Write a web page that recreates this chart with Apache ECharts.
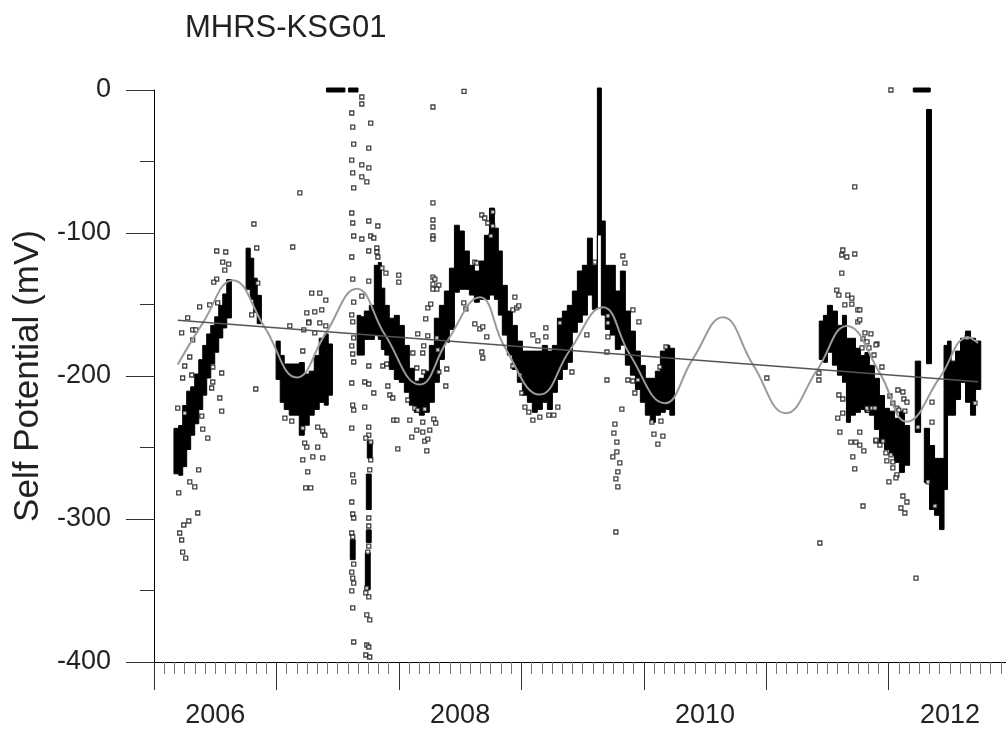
<!DOCTYPE html>
<html>
<head>
<meta charset="utf-8">
<script src="https://cdn.jsdelivr.net/npm/echarts@6/dist/echarts.min.js"></script>
<style>
html,body{margin:0;padding:0;background:#fff;}
#chart{width:1006px;height:733px;}
</style>
</head>
<body>
<div id="chart"></div>
<script>
// ---------- DATA (time in decimal years, Self Potential in mV) ----------
var chartTitle = 'MHRS-KSG01';
var yAxisTitle = 'Self Potential (mV)';
var yearLabels = [2006, 2008, 2010, 2012];

// dense measurement bands: [time, upper value, lower value]
var band2006 = [
  [2006.185,-238,-267],[2006.218,-236,-268],[2006.251,-222,-262],[2006.283,-212,-250],
  [2006.316,-209,-240],[2006.349,-200,-232],[2006.382,-190,-222],[2006.414,-180,-212],
  [2006.447,-172,-200],[2006.480,-166,-190],[2006.512,-160,-182],[2006.545,-152,-172],
  [2006.578,-144,-165],[2006.610,-134,-158],
  [2006.774,-112,-138],[2006.798,-119,-145],[2006.831,-133,-154],[2006.855,-145,-162]
];
var band2007 = [
  [2007.019,-177,-201],[2007.043,-187,-217],[2007.084,-193,-222],[2007.125,-193,-226],
  [2007.166,-193,-226],[2007.207,-192,-240],[2007.248,-200,-233],[2007.288,-198,-226],
  [2007.329,-187,-222],[2007.370,-175,-217],[2007.411,-172,-219],[2007.435,-179,-212]
];
var band2008to2010 = [
  [2007.681,-159,-184],[2007.697,-160,-184],[2007.738,-156,-173],[2007.779,-152,-173],
  [2007.820,-124,-170],[2007.844,-122,-173],[2007.869,-140,-180],[2007.901,-152,-184],
  [2007.942,-161,-194],[2007.983,-159,-201],[2008.024,-166,-203],[2008.065,-180,-210],
  [2008.106,-196,-219],[2008.146,-205,-224],[2008.187,-203,-226],[2008.228,-198,-224],
  [2008.269,-180,-217],[2008.310,-161,-203],[2008.351,-152,-187],[2008.392,-142,-175],
  [2008.433,-126,-166],[2008.474,-96,-140],[2008.514,-100,-138],[2008.555,-114,-138],
  [2008.596,-124,-142],[2008.637,-128,-147],[2008.678,-121,-145],[2008.719,-103,-145],
  [2008.760,-84,-142],[2008.800,-98,-145],[2008.824,-114,-156],[2008.865,-138,-170],
  [2008.906,-156,-184],[2008.947,-166,-194],[2008.988,-177,-203],[2009.029,-184,-212],
  [2009.069,-184,-217],[2009.110,-184,-224],[2009.151,-184,-222],[2009.192,-180,-217],
  [2009.233,-184,-222],[2009.274,-180,-210],[2009.315,-161,-201],[2009.355,-156,-194],
  [2009.396,-152,-189],[2009.437,-142,-168],[2009.478,-128,-161],[2009.519,-124,-156],
  [2009.560,-105,-142],[2009.600,-124,-152],[2009.642,0,-100],[2009.665,-93,-156],
  [2009.706,-124,-166],[2009.747,-124,-170],[2009.788,-142,-180],[2009.829,-128,-177],
  [2009.870,-156,-191],[2009.911,-170,-198],[2009.952,-184,-208],[2009.992,-194,-217],
  [2010.033,-203,-226],[2010.074,-203,-231],[2010.115,-198,-226],[2010.156,-184,-224],
  [2010.196,-180,-222],[2010.229,-182,-226]
];
var band2011to2012 = [
  [2011.455,-163,-187],[2011.479,-159,-189],[2011.520,-152,-182],[2011.561,-156,-191],
  [2011.602,-166,-198],[2011.643,-159,-203],[2011.667,-175,-231],[2011.708,-175,-226],
  [2011.749,-182,-224],[2011.790,-187,-222],[2011.822,-185,-224],[2011.863,-194,-226],
  [2011.904,-203,-236],[2011.945,-215,-245],[2011.986,-224,-250],[2012.027,-226,-254],
  [2012.067,-231,-259],[2012.108,-226,-266],[2012.149,-236,-261],
  [2012.239,-191,-238],
  [2012.313,-238,-273],[2012.354,-250,-292],[2012.395,-259,-296],
  [2012.436,-259,-306],[2012.468,-180,-278],[2012.493,-177,-226],[2012.526,-191,-226],
  [2012.566,-184,-215],[2012.607,-175,-203],[2012.648,-170,-217],[2012.689,-175,-226],
  [2012.730,-177,-208]
];
// narrow dense columns: [time, upper value, lower value]
var columnBands = [
  [2007.623,-316,-327],[2007.762,-247,-256],[2007.754,-270,-292],[2007.754,-309,-315],
  [2007.746,-325,-348],[2012.329,-15,-190]
];
// readings saturated at 0 mV
var zeroBars = [
  [2007.431,0,0],[2007.468,0,0],[2007.505,0,0],[2007.537,0,0],[2007.611,0,0],[2007.644,0,0],
  [2012.223,0,0],[2012.256,0,0],[2012.288,0,0],[2012.317,0,0]
];

// scattered individual readings: [time, value]
var outliers2006 = [
  [2006.816,-93.7],[2007.133,-109.8],[2006.839,-110.5],[2006.512,-112.6],[2006.586,-113.3],
  [2006.561,-120.3],[2006.610,-121.7],[2006.578,-125.9],[2006.512,-132.2],[2006.488,-134.3],
  [2006.847,-135.0],[2007.288,-142.0],[2007.354,-142.0],[2007.403,-146.9],[2006.373,-151.7],
  [2006.455,-150.3],[2006.520,-148.9],[2006.275,-159.4],[2007.370,-153.8],[2007.313,-155.2],
  [2007.248,-155.9],[2006.798,-157.3],[2006.316,-167.8],[2006.341,-167.8],[2006.226,-169.9],
  [2007.109,-165.0],[2007.264,-162.2],[2007.313,-169.9],[2007.223,-167.8],[2006.316,-174.8],
  [2006.292,-186.7],[2006.251,-193.0],[2006.234,-201.4],[2006.308,-199.3],[2006.480,-193.7],
  [2006.553,-197.9],[2006.480,-204.2],[2006.471,-208.4],[2006.537,-215.4],[2006.553,-224.5],
  [2006.194,-222.4],[2006.251,-225.9],[2006.390,-228.0],[2006.398,-237.1],[2006.439,-243.4],
  [2007.069,-229.4],[2007.125,-231.5],[2007.215,-236.4],[2007.337,-235.7],[2007.378,-238.5],
  [2007.231,-246.9],[2007.248,-249.7],[2007.337,-249.7],[2007.297,-256.6],[2007.378,-257.3],
  [2007.215,-258.7],[2007.256,-267.1],[2006.365,-265.7],[2006.292,-274.1],[2006.333,-277.6],
  [2007.239,-278.3],[2007.280,-278.3],[2006.202,-281.8],[2006.357,-295.8],[2006.284,-301.4],
  [2006.243,-304.2],[2006.210,-309.8],[2006.226,-314.7],[2006.234,-323.1],[2006.259,-327.3],
  [2006.831,-209.1],[2007.191,-72.0],[2007.264,-162.9],[2007.354,-162.9],[2007.403,-165.0],
  [2007.215,-182.5],[2007.395,-241.3]
];
var outliers2007a = [
  [2007.615,-16.1],[2007.623,-25.9],[2007.631,-37.8],[2007.615,-49.0],[2007.623,-58.0],
  [2007.631,-68.5],[2007.615,-86.0],[2007.623,-93.0],[2007.631,-102.1],[2007.615,-116.8],
  [2007.623,-132.2],[2007.631,-148.3],[2007.615,-157.3],[2007.623,-162.2],[2007.631,-173.4],
  [2007.615,-179.0],[2007.623,-184.6],[2007.631,-190.2],[2007.615,-204.9],[2007.623,-220.3],
  [2007.631,-223.8],[2007.615,-236.4],[2007.623,-269.2],[2007.631,-274.1],[2007.615,-288.1],
  [2007.623,-296.5],[2007.631,-299.3],[2007.615,-309.8],[2007.623,-312.6],[2007.631,-331.5],
  [2007.615,-337.1],[2007.623,-341.3],[2007.631,-344.8],[2007.615,-350.3],[2007.623,-362.2],
  [2007.631,-386.0]
];
var outliers2007b = [
  [2007.697,-4.9],[2007.697,-9.8],[2007.770,-23.1],[2007.754,-40.6],[2007.697,-52.4],
  [2007.754,-54.5],[2007.697,-60.8],[2007.738,-64.3],[2007.754,-91.6],[2007.828,-95.1],
  [2007.697,-104.2],[2007.770,-102.1],[2007.795,-103.5],[2007.754,-112.6],[2007.820,-110.5],
  [2007.820,-113.3],[2007.828,-116.8],[2007.697,-144.1],[2007.754,-133.6],[2007.754,-193.0],
  [2007.721,-204.2],[2007.754,-205.6],[2007.795,-211.9],[2007.721,-221.7],[2007.754,-235.7],
  [2007.754,-241.3],[2007.730,-243.4],[2007.770,-246.2],[2007.770,-258.7],[2007.762,-265.7],
  [2007.754,-299.3],[2007.754,-304.9],[2007.754,-318.9],[2007.746,-323.1],[2007.738,-348.3],
  [2007.730,-351.7],[2007.754,-354.5],[2007.738,-367.1],[2007.762,-370.6],[2007.738,-388.1],
  [2007.754,-389.5],[2007.730,-395.1],[2007.762,-396.5]
];
var outliers2008 = [
  [2008.532,-1.0],[2008.278,-11.9],[2008.278,-79.0],[2008.278,-90.9],[2008.278,-95.8],
  [2008.278,-102.1],[2008.278,-104.2],[2007.861,-124.5],[2007.894,-128.0],[2007.999,-129.4],
  [2007.999,-134.3],[2008.278,-130.8],[2008.294,-132.2],[2008.278,-135.7],[2008.326,-136.4],
  [2008.278,-139.2],[2008.310,-139.2],[2007.869,-193.0],[2007.901,-191.6],[2007.910,-207.0],
  [2007.926,-213.3],[2007.950,-215.4],[2007.958,-230.8],[2007.983,-230.8],[2008.236,-152.4],
  [2008.260,-149.7],[2008.219,-160.1],[2008.154,-170.6],[2008.236,-172.0],[2008.203,-179.0],
  [2008.195,-183.9],[2008.114,-183.9],[2008.146,-194.4],[2008.203,-197.2],[2008.310,-173.4],
  [2008.318,-181.8],[2008.391,-195.1],[2008.383,-207.0],[2008.326,-197.2],[2008.130,-222.4],
  [2008.154,-223.8],[2008.211,-223.1],[2008.073,-216.8],[2008.089,-230.8],[2008.195,-232.2],
  [2008.285,-230.1],[2008.301,-232.9],[2007.991,-251.0],[2008.228,-252.4],[2008.105,-242.7],
  [2008.146,-237.8],[2008.195,-239.2],[2008.252,-237.8],[2008.211,-245.5],[2008.236,-244.1],
  [2008.620,-163.6],[2008.661,-167.1],[2008.685,-165.7],[2008.718,-172.7],[2008.677,-183.2],
  [2008.685,-187.4],[2008.530,-148.9],[2008.547,-153.1],[2008.620,-120.3],[2008.636,-121.0],
  [2008.677,-87.4],[2008.701,-89.5],[2008.766,-85.3],[2008.726,-93.0],[2008.751,-102.1],
  [2008.766,-95.1]
];
var outliers2009 = [
  [2008.947,-144.8],[2008.931,-153.8],[2008.963,-152.4],[2008.979,-151.0],[2009.094,-171.3],
  [2009.135,-175.5],[2009.200,-166.4],[2009.200,-172.7],[2009.315,-162.9],[2008.931,-193.0],
  [2008.988,-199.3],[2009.004,-211.9],[2009.029,-221.7],[2009.061,-225.2],[2009.094,-230.8],
  [2009.151,-228.7],[2009.224,-227.3],[2009.265,-227.3],[2009.298,-221.7],[2009.413,-197.2],
  [2009.535,-171.3],[2009.600,-120.3],[2009.707,-158.0],[2009.707,-162.9],[2009.707,-172.7],
  [2009.699,-183.2],[2009.699,-202.8],[2009.829,-116.1],[2009.846,-121.0],[2009.911,-153.8],
  [2009.960,-162.2],[2009.870,-202.8],[2009.911,-203.5],[2009.952,-202.8],[2009.927,-211.9],
  [2009.821,-223.1],[2009.764,-233.6],[2009.756,-239.9],[2009.780,-246.2],[2009.780,-253.1],
  [2009.747,-256.6],[2009.804,-260.8],[2009.788,-267.1],[2009.772,-272.0],[2009.788,-277.6],
  [2009.772,-309.1],[2010.083,-240.6],[2010.115,-247.6],[2010.156,-242.0],[2010.140,-231.5],
  [2010.066,-232.2],[2010.132,-193.7],[2010.181,-179.7]
];
var outliers2011 = [
  [2011.005,-201.4],[2011.430,-197.9],[2011.430,-202.8],[2011.625,-111.9],[2011.617,-115.4],
  [2011.658,-116.8],[2011.723,-114.7],[2011.617,-128.0],[2011.576,-139.9],[2011.593,-143.4],
  [2011.666,-143.4],[2011.699,-145.5],[2011.642,-150.3],[2011.699,-149.7],[2011.748,-153.8],
  [2011.748,-162.2],[2011.806,-169.9],[2011.855,-170.6],[2011.790,-174.1],[2011.823,-176.2],
  [2011.782,-180.4],[2011.839,-180.4],[2011.904,-177.6],[2011.880,-185.3],[2011.593,-213.3],
  [2011.625,-216.1],[2011.584,-229.4],[2011.625,-225.9],[2011.601,-239.2],[2011.764,-239.2],
  [2011.691,-246.2],[2011.732,-246.2],[2011.797,-252.4],[2011.707,-256.6],[2011.723,-265.0],
  [2011.790,-290.9],[2011.896,-245.5],[2011.830,-223.8],[2011.863,-222.4],[2012.018,0],
  [2011.896,-178.3],[2011.945,-193.7],[2011.764,-153.8],[2011.764,-160.8],[2012.010,-214.0],
  [2012.075,-209.8],[2012.116,-211.2],[2012.034,-218.9],[2012.124,-216.1],[2012.149,-218.2],
  [2012.067,-222.4],[2012.083,-223.8],[2012.132,-224.5],[2011.822,-222.4],[2011.888,-222.4],
  [2011.764,-248.3],[2011.896,-244.8],[2011.953,-245.5],[2011.928,-248.3],[2011.977,-253.8],
  [2012.018,-255.2],[2011.985,-259.4],[2012.034,-260.1],[2012.034,-264.3],[2012.067,-269.2],
  [2012.059,-271.3],[2012.002,-274.1],[2012.116,-283.9],[2012.149,-288.1],[2012.100,-292.3],
  [2012.132,-295.8],[2012.223,-341.3],[2012.239,-235.7],[2012.354,-218.2],[2012.354,-232.2],
  [2012.321,-274.1],[2012.378,-290.9],[2012.640,-173.4],[2012.705,-218.9],[2011.438,-316.8],
  [2011.723,-67.8]
];

// seasonal fit curve, read at peaks, troughs and crossings
var seasonalFit = [
  [2006.194,-192],[2006.398,-163],[2006.643,-133],[2006.904,-166],[2007.166,-201],
  [2007.403,-170],[2007.656,-139],[2007.885,-171],[2008.171,-206],[2008.392,-176],
  [2008.662,-145],[2008.866,-180],[2009.151,-213],[2009.396,-182],[2009.665,-152],
  [2009.886,-185],[2010.172,-219],[2010.401,-188],[2010.646,-159],[2010.891,-192],
  [2011.160,-226],[2011.414,-196],[2011.658,-165],[2011.928,-198],[2012.149,-232],
  [2012.418,-201],[2012.648,-173],[2012.730,-177]
];
// linear trend
var trendLine = [[2006.194,-161],[2012.730,-204]];

// ---------- CHART ----------
var FONT = '"Liberation Sans", Arial, Helvetica, sans-serif';
var chart = echarts.init(document.getElementById('chart'), null, {renderer:'canvas'});

// whole band drawn as stepped polygons (one per continuous run of samples)
function polygonBand(data){
  return function(params, api){
    if (params.dataIndex !== 0) return null;
    var segs = [], cur = [data[0]];
    for (var i = 1; i < data.length; i++){
      if (data[i][0] - data[i-1][0] > 0.07){ segs.push(cur); cur = [data[i]]; }
      else cur.push(data[i]);
    }
    segs.push(cur);
    var children = segs.map(function(seg){
      var top = [], bot = [];
      for (var k = 0; k < seg.length; k++){
        var t = seg[k][0];
        var left = k === 0 ? t - 0.022 : (seg[k-1][0] + t) / 2;
        var right = k === seg.length - 1 ? t + 0.022 : (t + seg[k+1][0]) / 2;
        var pl = api.coord([left, seg[k][1]]), pr = api.coord([right, seg[k][1]]);
        var bl = api.coord([left, seg[k][2]]), br = api.coord([right, seg[k][2]]);
        top.push([pl[0], pl[1] - 2], [pr[0], pr[1] - 2]);
        bot.push([bl[0], bl[1] + 2], [br[0], br[1] + 2]);
      }
      return {type:'polygon', shape:{points: top.concat(bot.reverse())},
        style:{fill:'#000', stroke:'#000', lineWidth:1}};
    });
    return {type:'group', children:children};
  };
}
function bandSeries(data){
  return {type:'custom', renderItem:polygonBand(data), data:data,
    encode:{x:0, y:[1,2]}, z:2, silent:true, clip:false};
}
function columnItem(params, api){
  var t = api.value(0), a = api.value(1), b = api.value(2);
  var p1 = api.coord([t - 0.02, a]);
  var p2 = api.coord([t + 0.02, b]);
  return {type:'rect',
    shape:{x:p1[0], y:p1[1] - 2, width:p2[0] - p1[0], height:(p2[1] - p1[1]) + 4},
    style:{fill:'#000', stroke:'#000', lineWidth:1}};
}
function pointSeries(data){
  return {type:'scatter', data:data, symbol:'rect', symbolSize:4,
    itemStyle:{color:'#fff', borderColor:'#111', borderWidth:1.3}, z:3, silent:true};
}

var option = {
  animation:false,
  backgroundColor:'#fff',
  title:{text:chartTitle, left:180, top:8,
    textStyle:{fontFamily:FONT, fontSize:31, fontWeight:'normal', color:'#222'}},
  grid:{left:154, right:0, top:90, bottom:71, containLabel:false},
  xAxis:[
    {type:'value', position:'bottom', min:2006, max:2012.958, interval:1,
      axisLine:{show:true, onZero:false, lineStyle:{color:'#000', width:1}},
      axisTick:{show:true, inside:false, length:28, lineStyle:{color:'#333', width:1}},
      minorTick:{show:true, splitNumber:12, length:12, lineStyle:{color:'#777', width:1}},
      axisLabel:{show:false}, splitLine:{show:false}, minorSplitLine:{show:false}},
    {type:'value', position:'bottom', min:2006, max:2012.958, interval:0.5,
      axisLine:{show:false, onZero:false}, axisTick:{show:false}, splitLine:{show:false},
      axisLabel:{show:true, margin:40, fontFamily:FONT, fontSize:27, color:'#222',
        showMinLabel:false, showMaxLabel:false,
        formatter:function(v){
          for (var i = 0; i < yearLabels.length; i++){
            if (Math.abs(v - (yearLabels[i] + 0.5)) < 1e-6) return String(yearLabels[i]);
          }
          return '';
        }}}
  ],
  yAxis:{type:'value', min:-400, max:0, interval:100,
    name:yAxisTitle, nameLocation:'middle', nameRotate:90, nameGap:108,
    nameTextStyle:{fontFamily:FONT, fontSize:35, color:'#222'},
    axisLine:{show:true, onZero:false, lineStyle:{color:'#000', width:1}},
    axisTick:{show:true, inside:false, length:28, lineStyle:{color:'#333', width:1}},
    minorTick:{show:true, splitNumber:2, length:14, lineStyle:{color:'#333', width:1}},
    axisLabel:{margin:43, fontFamily:FONT, fontSize:27, color:'#222'},
    splitLine:{show:false}, minorSplitLine:{show:false}},
  series:[
    bandSeries(band2006), bandSeries(band2007), bandSeries(band2008to2010),
    bandSeries(band2011to2012), bandSeries(zeroBars),
    {type:'custom', renderItem:columnItem, data:columnBands, encode:{x:0, y:[1,2]},
      z:2, silent:true, clip:false},
    pointSeries(outliers2006), pointSeries(outliers2007a), pointSeries(outliers2007b),
    pointSeries(outliers2008), pointSeries(outliers2009), pointSeries(outliers2011),
    {type:'line', data:seasonalFit, smooth:0.45, symbol:'none', z:5, silent:true,
      lineStyle:{color:'#9a9a9a', width:2}},
    {type:'line', data:trendLine, symbol:'none', z:6, silent:true,
      lineStyle:{color:'#555', width:1.5}}
  ]
};
chart.setOption(option);
</script>
</body>
</html>
